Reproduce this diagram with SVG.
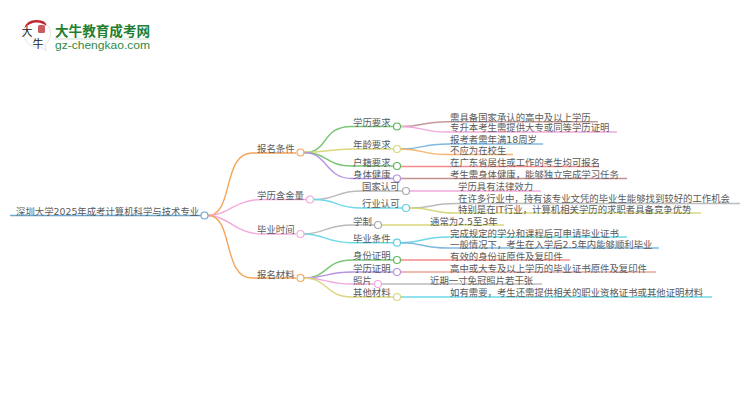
<svg xmlns="http://www.w3.org/2000/svg" width="750" height="410" viewBox="0 0 750 410">
<style>
text{font-family:"DejaVu Sans","Noto Sans CJK SC",sans-serif;font-size:9.4px;fill:#5a5a5a}
.c path{fill:none;stroke-width:1.4}
circle{fill:#fff;stroke-width:1.2}
.logo0{font-family:"Noto Sans CJK SC",sans-serif;font-size:11px;fill:#222}
.logo1{font-family:"Noto Sans CJK SC",sans-serif;font-size:13.6px;font-weight:700;fill:#1f7f32}
.logo2{font-family:"Liberation Sans",sans-serif;font-size:10.6px;fill:#2f8a45}
</style>
<rect width="750" height="410" fill="#fff"/>
<g id="logo">
<path d="M37 20a13.500 13.500 0 0 1 8 24.500l1.500 6-6.500-3.800a13.500 13.500 0 1 1-3-26.700z" fill="#fff" stroke="#ddd" stroke-width="0.8"/>
<path d="M24.500 28q2-8 12-8t10 6q-5-4-11-3.500t-11 5.500z" fill="#c0282d"/>
<rect x="38" y="25" width="7" height="8" rx="1.500" fill="#c95a5e"/>
<text class="logo0" x="21.500" y="36">大</text>
<text class="logo0" x="32.500" y="47.500">牛</text>
<text class="logo1" x="55" y="36">大牛教育成考网</text>
<rect x="55" y="38.500" width="95" height="1" fill="#cfe0d2"/>
<text class="logo2" x="55" y="49" textLength="95" lengthAdjust="spacingAndGlyphs">gz-chengkao.com</text>
</g>
<g id="connectors" class="c">
<path d="M10 215.500H201" stroke="#6fa8d0"/>
<path d="M208 215.500C234 215.500 222 153 252 153H296" stroke="#f5a55a"/>
<path d="M208 215.500C228 215.500 235 199.500 262 199.500H306" stroke="#f2a9dc"/>
<path d="M208 215.500C228 215.500 235 234 262 234H296" stroke="#f2a9dc"/>
<path d="M208 215.500C234 215.500 222 278 252 278H296" stroke="#f5a55a"/>
<path d="M304 152.500C330 152.500 320 126.500 352 126.500H393" stroke="#7cc576"/>
<path d="M304 152.500C325 152.500 330 149 352 149H393" stroke="#d9d77e"/>
<path d="M304 152.500C328 152.500 325 166 352 166H393" stroke="#7cc576"/>
<path d="M304 152.500C328 152.500 325 178.500 352 178.500H393" stroke="#b795e0"/>
<path d="M314 199.500C338 199.500 335 191 361 191H402" stroke="#bbb"/>
<path d="M314 199.500C338 199.500 335 208 361 208H402" stroke="#6ed9e8"/>
<path d="M304 234C325 234 325 225 352 225H374" stroke="#bbb"/>
<path d="M304 234C325 234 325 242.700 352 242.700H393" stroke="#6ed9e8"/>
<path d="M304 278C328 278 325 260 352 260H393" stroke="#7cc576"/>
<path d="M304 278C328 278 325 272 352 272H393" stroke="#b795e0"/>
<path d="M304 278C328 278 325 284 352 284H374" stroke="#f2a9dc"/>
<path d="M304 278C328 278 325 297 352 297H393" stroke="#d9d77e"/>
<path d="M401 126.500C425 126.500 420 121.700 448 121.700H598" stroke="#c49a98"/>
<path d="M401 126.500C425 126.500 420 132 448 132H617" stroke="#f2a9dc"/>
<path d="M401 149C425 149 420 144 448 144H543" stroke="#7fb8e0"/>
<path d="M401 149C425 149 420 154.500 448 154.500H513" stroke="#f9b56e"/>
<path d="M401 166.500H599" stroke="#f28c8c"/>
<path d="M401 178.500H627" stroke="#c4908e"/>
<path d="M410 191H541" stroke="#f2a9dc"/>
<path d="M410 208C435 208 430 203.500 456 203.500H740" stroke="#bbb"/>
<path d="M410 208C435 208 430 213 456 213H701" stroke="#d9d77e"/>
<path d="M382 225H504" stroke="#d9d77e"/>
<path d="M401 242.700C425 242.700 420 237 448 237H627" stroke="#6ed9e8"/>
<path d="M401 242.700C425 242.700 420 248 448 248H659" stroke="#7fb8e0"/>
<path d="M401 260H570" stroke="#f28c8c"/>
<path d="M401 272H656" stroke="#e8a49a"/>
<path d="M382 284H542" stroke="#bbb"/>
<path d="M401 297H712" stroke="#6ed9e8"/>
</g>
<g id="root"><circle cx="204.500" cy="215.500" r="3.500" stroke="#6fa8d0"/><text x="16" y="215">深圳大学2025年成考计算机科学与技术专业</text></g>
<g id="n1"><circle cx="300.500" cy="152.500" r="3.500" stroke="#f5a55a"/><text x="257" y="152">报名条件</text></g>
<g id="n2"><circle cx="310" cy="199.500" r="3.500" stroke="#f2a9dc"/><text x="257" y="199">学历含金量</text></g>
<g id="n3"><circle cx="300.500" cy="234" r="3.500" stroke="#f2a9dc"/><text x="257" y="233">毕业时间</text></g>
<g id="n4"><circle cx="300.500" cy="278" r="3.500" stroke="#f5a55a"/><text x="257" y="277.500">报名材料</text></g>
<g id="n11"><circle cx="397" cy="126.500" r="3.500" stroke="#5fb85f"/><text x="353" y="125.700">学历要求</text></g>
<g id="n12"><circle cx="397" cy="149" r="3.500" stroke="#d9d77e"/><text x="353" y="148.400">年龄要求</text></g>
<g id="n13"><circle cx="397" cy="166" r="3.500" stroke="#5fb85f"/><text x="353" y="165.700">户籍要求</text></g>
<g id="n14"><circle cx="397" cy="178.500" r="3.500" stroke="#b795e0"/><text x="353" y="177.700">身体健康</text></g>
<g id="n21"><circle cx="406" cy="191" r="3.500" stroke="#aaa"/><text x="362" y="190.400">国家认可</text></g>
<g id="n22"><circle cx="406" cy="208" r="3.500" stroke="#5fd0e0"/><text x="362" y="207">行业认可</text></g>
<g id="n31"><circle cx="378" cy="225" r="3.500" stroke="#aaa"/><text x="353" y="224.700">学制</text></g>
<g id="n32"><circle cx="397" cy="242.700" r="3.500" stroke="#5fd0e0"/><text x="353" y="242">毕业条件</text></g>
<g id="n41"><circle cx="397" cy="260" r="3.500" stroke="#5fb85f"/><text x="353" y="259.300">身份证明</text></g>
<g id="n42"><circle cx="397" cy="272" r="3.500" stroke="#b795e0"/><text x="353" y="271.700">学历证明</text></g>
<g id="n43"><circle cx="378" cy="284" r="3.500" stroke="#f2a9dc"/><text x="353" y="284">照片</text></g>
<g id="n44"><circle cx="397" cy="297" r="3.500" stroke="#d9d77e"/><text x="353" y="296">其他材料</text></g>
<g id="leaves">
<text x="450" y="121">需具备国家承认的高中及以上学历</text>
<text x="450" y="131">专升本考生需提供大专或同等学历证明</text>
<text x="450" y="143">报考者需年满18周岁</text>
<text x="450" y="153.700">不应为在校生</text>
<text x="450" y="166">在广东省居住或工作的考生均可报名</text>
<text x="450" y="178">考生需身体健康，能够独立完成学习任务</text>
<text x="458" y="190.400">学历具有法律效力</text>
<text x="458" y="202">在许多行业中，持有该专业文凭的毕业生能够找到较好的工作机会</text>
<text x="458" y="213">特别是在IT行业，计算机相关学历的求职者具备竞争优势</text>
<text x="430" y="225">通常为2.5至3年</text>
<text x="450" y="237">完成规定的学分和课程后可申请毕业证书</text>
<text x="450" y="247.700">一般情况下，考生在入学后2.5年内能够顺利毕业</text>
<text x="450" y="259.700">有效的身份证原件及复印件</text>
<text x="450" y="272">高中或大专及以上学历的毕业证书原件及复印件</text>
<text x="430" y="284">近期一寸免冠照片若干张</text>
<text x="450" y="296">如有需要，考生还需提供相关的职业资格证书或其他证明材料</text>
</g>
</svg>
